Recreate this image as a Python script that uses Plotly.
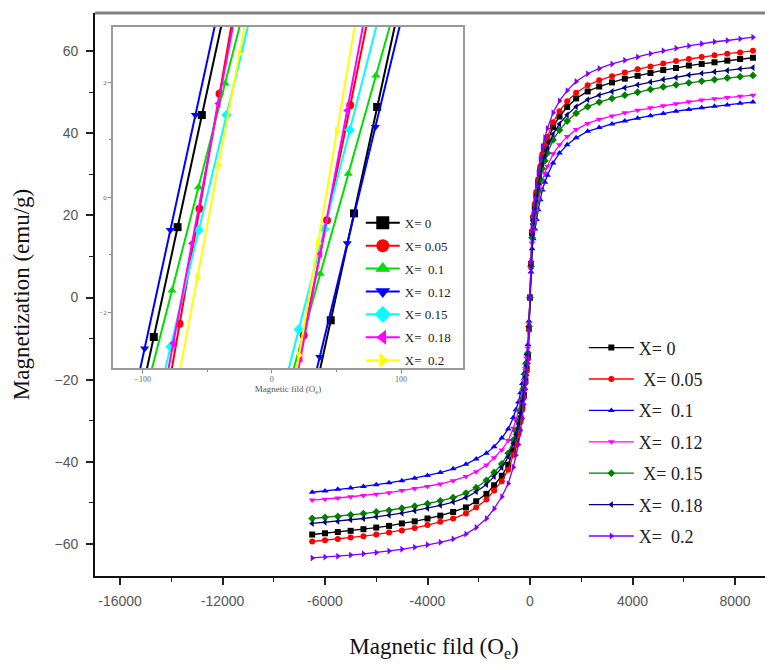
import plotly.graph_objects as go

# ---------------- main M-H data ----------------
H = [-8500, -8000, -7500, -7000, -6500, -6000, -5500, -5000, -4500, -4000, -3500, -3000,
     -2500, -2100, -1700, -1400, -1100,
     -850, -650, -550, -450, -370, -300, -240, -180, -130, -80, -40, 0,
     40, 80, 130, 190, 250, 320, 400, 480, 580, 680, 900,
     1150, 1450, 1800, 2250, 2700, 3200, 3700, 4200,
     4700, 5200, 5700, 6200, 6700, 7200, 7700, 8200, 8700]

M_x0 = [-57.7, -57.4, -57.1, -56.8, -56.4, -56.0, -55.6, -55.0, -54.5, -53.8, -53.1, -52.2,
        -51.1, -49.6, -47.8, -45.7, -43.4,
        -40.7, -37.2, -34.9, -32.3, -29.4, -26.5, -23.7, -20.2, -17.3, -14.4, -7.5, 0.0,
        8.2, 15.8, 19.3, 22.2, 25.1, 28.0, 31.0, 33.9, 35.9, 38.0, 41.5,
        44.1, 46.4, 48.5, 50.2, 51.4, 52.4, 53.3, 54.0,
        54.7, 55.4, 55.9, 56.5, 56.9, 57.3, 57.7, 58.1, 58.4]
M_x005 = [-59.4, -59.1, -58.8, -58.4, -58.1, -57.7, -57.2, -56.7, -56.1, -55.4, -54.6, -53.8,
          -52.6, -51.1, -49.2, -47.0, -44.7,
          -41.9, -38.3, -35.9, -33.3, -30.3, -27.3, -24.4, -20.8, -17.8, -14.9, -7.7, 0.0,
          8.4, 16.2, 19.8, 22.8, 25.8, 28.8, 31.9, 34.9, 37.0, 39.1, 42.7,
          45.4, 47.8, 49.9, 51.7, 52.9, 53.9, 54.8, 55.6,
          56.3, 57.0, 57.6, 58.1, 58.6, 59.0, 59.4, 59.7, 60.1]
M_x01 = [-47.4, -47.1, -46.7, -46.4, -46.0, -45.6, -45.1, -44.6, -44.0, -43.3, -42.6, -41.7,
         -40.6, -39.3, -37.9, -36.3, -34.2,
         -32.0, -29.2, -27.3, -25.4, -23.2, -20.9, -18.5, -15.9, -13.7, -11.4, -5.7, 0.0,
         6.2, 11.9, 14.3, 16.7, 19.0, 21.4, 23.8, 26.2, 28.1, 29.8, 32.8,
         35.2, 37.2, 38.9, 40.5, 41.4, 42.3, 43.0, 43.7,
         44.3, 44.8, 45.4, 45.8, 46.2, 46.6, 46.9, 47.3, 47.6]
M_x012 = [-49.3, -49.1, -48.8, -48.5, -48.2, -47.9, -47.5, -47.0, -46.5, -46.0, -45.4, -44.6,
          -43.6, -42.4, -40.8, -39.0, -37.1,
          -34.8, -31.8, -29.8, -27.6, -25.1, -22.7, -20.2, -17.3, -14.8, -12.3, -6.4, 0.0,
          6.9, 13.3, 16.3, 18.7, 21.2, 23.7, 26.1, 28.6, 30.3, 32.0, 35.0,
          37.2, 39.2, 40.9, 42.4, 43.4, 44.2, 45.0, 45.6,
          46.2, 46.7, 47.2, 47.7, 48.1, 48.4, 48.7, 49.0, 49.3]
M_x015 = [-53.8, -53.5, -53.3, -52.9, -52.6, -52.2, -51.8, -51.3, -50.8, -50.2, -49.5, -48.7,
          -47.6, -46.3, -44.5, -42.6, -40.5,
          -37.9, -34.7, -32.5, -30.1, -27.4, -24.7, -22.1, -18.8, -16.1, -13.5, -7.0, 0.0,
          7.6, 14.6, 17.9, 20.6, 23.3, 26.0, 28.7, 31.4, 33.3, 35.2, 38.4,
          40.8, 43.0, 44.9, 46.5, 47.6, 48.5, 49.3, 50.0,
          50.7, 51.3, 51.8, 52.3, 52.7, 53.1, 53.5, 53.8, 54.1]
M_x018 = [-55.0, -54.7, -54.5, -54.1, -53.8, -53.4, -53.0, -52.5, -51.9, -51.3, -50.6, -49.8,
          -48.7, -47.3, -45.5, -43.6, -41.4,
          -38.8, -35.5, -33.3, -30.8, -28.1, -25.3, -22.6, -19.3, -16.5, -13.8, -7.2, 0.0,
          7.8, 15.1, 18.5, 21.3, 24.1, 26.9, 29.7, 32.5, 34.4, 36.4, 39.8,
          42.3, 44.5, 46.5, 48.2, 49.3, 50.2, 51.1, 51.8,
          52.5, 53.1, 53.6, 54.2, 54.6, 55.0, 55.3, 55.7, 56.0]
M_x02 = [-63.4, -63.2, -63.0, -62.7, -62.4, -62.1, -61.7, -61.3, -60.8, -60.2, -59.6, -58.8,
         -57.6, -56.0, -53.8, -51.4, -48.5,
         -45.3, -41.3, -38.4, -35.8, -32.3, -29.4, -26.0, -22.4, -19.0, -16.0, -8.2, 0.0,
         8.9, 17.1, 20.9, 24.1, 27.3, 30.4, 33.6, 36.8, 39.0, 41.2, 45.0,
         47.9, 50.4, 52.6, 54.5, 55.8, 56.9, 57.8, 58.6,
         59.4, 60.1, 60.7, 61.3, 61.8, 62.3, 62.6, 63.0, 63.4]

main_labels = ["X=\u00a00", "\u00a0X=\u00a00.05", "X=\u00a0\u00a00.1", "X=\u00a0\u00a00.12",
               "\u00a0X=\u00a00.15", "X=\u00a0\u00a00.18", "X=\u00a0\u00a00.2"]
main_colors = ["#000000", "#FF0000", "#0000FF", "#FF00FF", "#008000", "#000080", "#8000FF"]
symbols = ["square", "circle", "triangle-up", "triangle-down", "diamond", "triangle-left", "triangle-right"]

# ---------------- inset data (low-field zoom, both branches) ----------------
ins_H_x0 = [-110.4, -91.4, -73.0, -54.2, -35.1, None, 27.6, 45.6, 63.6, 81.5, 99.3]
ins_M_x0 = [-4.4, -2.43, -0.52, 1.43, 3.4, None, -4.0, -2.14, -0.28, 1.57, 3.4]
ins_H_x005 = [-88.4, -71.4, -56.0, -40.5, -25.0, None, 6.6, 24.6, 42.7, 60.7, 78.8]
ins_M_x005 = [-4.4, -2.2, -0.2, 1.8, 3.8, None, -4.4, -2.4, -0.4, 1.6, 3.6]
ins_H_x01 = [-97.6, -77.3, -56.7, -36.2, -15.5, None, 15.4, 37.5, 59.2, 80.6, 102.9]
ins_M_x01 = [-3.4, -1.62, 0.18, 1.98, 3.8, None, -3.1, -1.33, 0.41, 2.12, 3.9]
ins_H_x012 = [-117.6, -98.5, -78.6, -59.2, -40.1, None, 16.4, 37.1, 58.4, 80.1, 101.4]
ins_M_x012 = [-4.6, -2.63, -0.57, 1.43, 3.4, None, -4.7, -2.78, -0.8, 1.22, 3.2]
ins_H_x015 = [-98.8, -78.4, -56.6, -35.1, -13.9, None, 0.3, 20.8, 40.7, 60.3, 83.5]
ins_M_x015 = [-4.5, -2.6, -0.57, 1.43, 3.4, None, -4.1, -2.3, -0.55, 1.17, 3.2]
ins_H_x018 = [-93.6, -76.3, -61.8, -41.4, -24.1, None, 7.9, 22.2, 37.4, 58.3, 75.8]
ins_M_x018 = [-4.6, -2.54, -0.8, 1.63, 3.7, None, -4.5, -2.8, -0.98, 1.51, 3.6]
ins_H_x02 = [-73.6, -57.7, -41.3, -25.0, -9.1, None, 6.4, 21.1, 35.8, 50.4, 65.1]
ins_M_x02 = [-3.3, -1.4, 0.56, 2.5, 4.4, None, -4.7, -2.75, -0.8, 1.15, 3.1]

ins_labels = ["X=\u00a00", "X=\u00a00.05", "X=\u00a0\u00a00.1", "X=\u00a0\u00a00.12",
              "X=\u00a00.15", "X=\u00a0\u00a00.18", "X=\u00a0\u00a00.2"]
ins_colors = ["#000000", "#FF0000", "#00DD00", "#0000FF", "#00FFFF", "#FF00FF", "#FFFF00"]

x_tickvals = [-16000, -12000, -8000, -4000, 0, 4000, 8000]
x_ticktext = ["-16000", "-12000", "-6000", "-4000", "0", "4000", "8000"]
y_tickvals = [-60, -40, -20, 0, 20, 40, 60]

main_M = [M_x0, M_x005, M_x01, M_x012, M_x015, M_x018, M_x02]
ins_H = [ins_H_x0, ins_H_x005, ins_H_x01, ins_H_x012, ins_H_x015, ins_H_x018, ins_H_x02]
ins_M = [ins_M_x0, ins_M_x005, ins_M_x01, ins_M_x012, ins_M_x015, ins_M_x018, ins_M_x02]

fig = go.Figure()

for i in range(7):
    fig.add_trace(go.Scatter(
        x=H, y=main_M[i], mode="lines+markers", name=main_labels[i],
        line=dict(color=main_colors[i], width=1.3),
        marker=dict(symbol=symbols[i], size=6, color=main_colors[i]),
        legendgroup="m%d" % i, legend="legend",
    ))

for i in range(7):
    fig.add_trace(go.Scatter(
        x=ins_H[i], y=ins_M[i], mode="lines+markers", showlegend=False,
        line=dict(color=ins_colors[i], width=2),
        marker=dict(symbol=symbols[i], size=8, color=ins_colors[i]),
        xaxis="x2", yaxis="y2", connectgaps=False,
    ))
    # legend entry for the inset (no data)
    fig.add_trace(go.Scatter(
        x=[None], y=[None], mode="lines+markers", name=ins_labels[i],
        line=dict(color=ins_colors[i], width=2),
        marker=dict(symbol=symbols[i], size=13, color=ins_colors[i]),
        xaxis="x2", yaxis="y2", legend="legend2", legendgroup="i%d" % i,
    ))

tickfont = dict(family="Liberation Sans Narrow, Liberation Sans, Arial", size=14, color="#555555")
serif = "Liberation Serif, Times New Roman, serif"

# the page body adds an 8px offset, so the figure is 8px smaller each way
fig.update_layout(
    width=765, height=654,
    margin=dict(l=87, r=0, t=5, b=86, autoexpand=False),
    paper_bgcolor="white", plot_bgcolor="white",
    xaxis=dict(
        range=[-16976, 9483], domain=[0, 1], automargin=False,
        tickvals=x_tickvals, ticktext=x_ticktext,
        ticks="outside", ticklen=7, tickwidth=1.5, tickcolor="#222",
        minor=dict(dtick=2000, ticks="outside", ticklen=4, tickcolor="#222", tickwidth=1.2),
        showline=True, linecolor="#111", linewidth=1.8, ticklabelstandoff=4,
        showgrid=False, zeroline=False, tickfont=tickfont,
        title=dict(text="Magnetic fild (O<sub>e</sub>)", font=dict(family=serif, size=23, color="#111"), standoff=34),
    ),
    yaxis=dict(
        range=[-67.8, 69.3], domain=[0, 1], automargin=False,
        tickvals=y_tickvals,
        ticks="outside", ticklen=7, tickwidth=1.5, tickcolor="#222",
        minor=dict(dtick=10, ticks="outside", ticklen=4, tickcolor="#222", tickwidth=1.2),
        showline=True, linecolor="#111", linewidth=1.8, ticklabelstandoff=5,
        showgrid=False, zeroline=False, tickfont=tickfont,
        title=dict(text="Magnetization (emu/g)", font=dict(family=serif, size=23, color="#111"), standoff=18),
    ),
    xaxis2=dict(
        domain=[0.0265, 0.5428], anchor="y2", range=[-123, 148], automargin=False,
        tickvals=[-100, 0, 100], ticks="outside", ticklen=3, tickcolor="#888",
        minor=dict(tickvals=[-50, 50], ticks="outside", ticklen=2, tickcolor="#888"),
        showline=True, mirror=True, linecolor="#999", linewidth=1.5,
        showgrid=False, zeroline=False,
        tickfont=dict(family=serif, size=8, color="#666"),
        title=dict(text="Magnetic fild (O<sub>e</sub>)", font=dict(family=serif, size=9, color="#555"), standoff=2),
    ),
    yaxis2=dict(
        domain=[0.3694, 0.975], anchor="x2", range=[-2.97, 2.96], automargin=False,
        tickvals=[-2, 0, 2], ticks="outside", ticklen=3, tickcolor="#888",
        minor=dict(tickvals=[-1, 1], ticks="outside", ticklen=2, tickcolor="#888"),
        showline=True, mirror=True, linecolor="#999", linewidth=1.5,
        showgrid=False, zeroline=False,
        tickfont=dict(family=serif, size=7, color="#666"),
    ),
    legend=dict(
        x=0.721, y=0.438, xanchor="left", yanchor="top",
        bgcolor="rgba(0,0,0,0)", borderwidth=0,
        font=dict(family=serif, size=18, color="#222"),
        itemwidth=45, tracegroupgap=5,
    ),
    legend2=dict(
        x=0.392, y=0.654, xanchor="left", yanchor="top",
        bgcolor="rgba(0,0,0,0)", borderwidth=0,
        font=dict(family=serif, size=13, color="#222"),
        itemwidth=34, tracegroupgap=3,
    ),
    shapes=[dict(type="line", xref="paper", yref="paper", x0=0, x1=1, y0=1.0, y1=1.0,
                 line=dict(color="#808080", width=3))],
    showlegend=True,
)

fig.write_html("out.html")
